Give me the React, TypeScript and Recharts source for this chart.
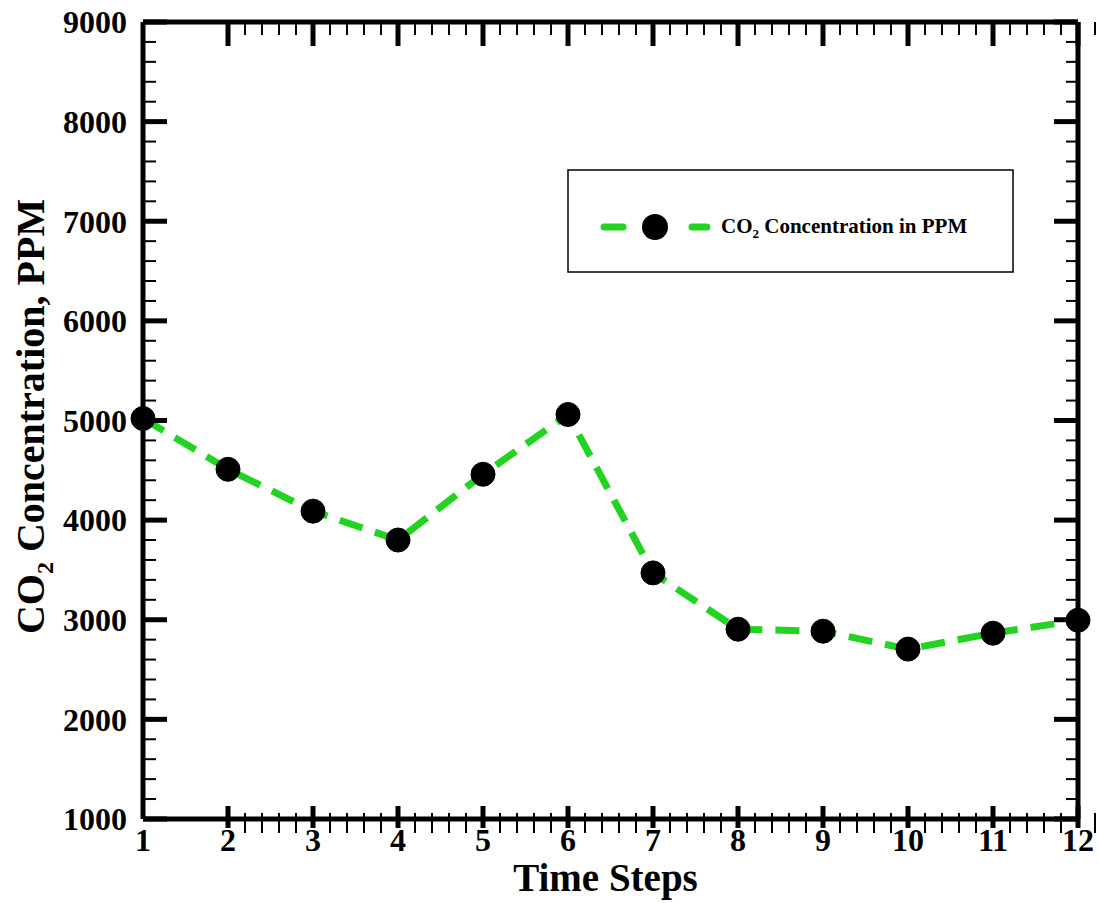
import { LineChart, Line, XAxis, YAxis } from "recharts";

const steps = [1, 2, 3, 4, 5, 6, 7, 8, 9, 10, 11, 12];
const co2 = [5020, 4510, 4090, 3800, 4460, 5060, 3470, 2905, 2885, 2705, 2865, 2995];
const xTicks = [1, 2, 3, 4, 5, 6, 7, 8, 9, 10, 11, 12];
const yTicks = [1000, 2000, 3000, 4000, 5000, 6000, 7000, 8000, 9000];

const xMinor: number[] = [];
for (let i = 1; i < 12; i++) for (let k = 1; k < 5; k++) xMinor.push(i + k * 0.2);
const yMinor: number[] = [];
for (let v = 1000; v < 9000; v += 1000) for (let k = 1; k < 5; k++) yMinor.push(v + k * 200);

const data = steps.map((s, i) => ({ step: s, co2: co2[i] }));

const GREEN = "#22d322";
const FONT = "'Liberation Serif', 'Times New Roman', serif";
const tickFont = { fill: "#000", fontSize: 32, fontWeight: "bold", fontFamily: FONT };
const major = { stroke: "#000", strokeWidth: 5 };
const minor = { stroke: "#000", strokeWidth: 2 };
const T = 0.01; // axis thickness, must be > 0 or recharts skips drawing

function XTitle(props: any) {
  const vb = props.viewBox || { x: 143, y: 819, width: 935, height: 0 };
  return (
    <text x={vb.x + vb.width / 2 - 5} y={vb.y + 72} textAnchor="middle"
      fontFamily={FONT} fontWeight="bold" fontSize={39} fill="#000">
      Time Steps
    </text>
  );
}

function YTitle(props: any) {
  const vb = props.viewBox || { x: 143, y: 22, width: 0, height: 797 };
  const cx = vb.x - 99;
  const cy = vb.y + vb.height / 2 - 4;
  return (
    <text x={cx} y={cy} transform={`rotate(-90, ${cx}, ${cy})`} textAnchor="middle"
      fontFamily={FONT} fontWeight="bold" fontSize={40} fill="#000">
      CO<tspan fontSize={24} dy={9}>2</tspan>
      <tspan dy={-9}> Concentration, PPM</tspan>
    </text>
  );
}

function LegendBox() {
  return (
    <svg width={447} height={104} style={{ display: "block" }}>
      <rect x={1} y={1} width={445} height={102} fill="#fff" stroke="#000" strokeWidth={1.5} />
      <line x1={37} x2={56} y1={58} y2={58} stroke={GREEN} strokeWidth={7} strokeLinecap="round" />
      <circle cx={88} cy={58} r={13} fill="#000" />
      <line x1={125} x2={140} y1={58} y2={58} stroke={GREEN} strokeWidth={7} strokeLinecap="round" />
      <text x={154} y={64} fontFamily={FONT} fontWeight="bold" fontSize={21} fill="#000">
        CO<tspan fontSize={13} dy={5}>2</tspan>
        <tspan dy={-5}> Concentration in PPM</tspan>
      </text>
    </svg>
  );
}

export default function App() {
  const xCommon = { type: "number" as const, domain: [1, 12], height: T, interval: 0 as const, allowDataOverflow: true };
  const yCommon = { type: "number" as const, domain: [1000, 9000], width: T, interval: 0 as const, allowDataOverflow: true };
  return (
    <div style={{ position: "absolute", left: 0, top: 0, width: 1099, height: 903, background: "#fff" }}>
      <LineChart width={1099} height={903} data={data}
        margin={{ top: 22, right: 21, left: 143, bottom: 84 }}>
        {/* bottom: labels, major in/out, minor in/out */}
        <XAxis xAxisId="xl" dataKey="step" type="number" domain={[1, 12]} ticks={xTicks} height={T}
          interval={0} tickSize={0} tickMargin={9} tickLine={false} axisLine={false} tick={tickFont}
          label={<XTitle />} />
        <XAxis xAxisId="bMajIn" {...xCommon} ticks={xTicks} mirror tickSize={13}
          tickLine={major} axisLine={major} tickFormatter={() => ""} />
        <XAxis xAxisId="bMajOut" {...xCommon} ticks={xTicks} tickSize={9}
          tickLine={major} axisLine={false} tickFormatter={() => ""} />
        <XAxis xAxisId="bMinIn" {...xCommon} ticks={xMinor} mirror tickSize={6}
          tickLine={minor} axisLine={false} tickFormatter={() => ""} />
        <XAxis xAxisId="bMinOut" {...xCommon} ticks={xMinor} tickSize={14}
          tickLine={minor} axisLine={false} tickFormatter={() => ""} />
        {/* top */}
        <XAxis xAxisId="tMaj" {...xCommon} orientation="top" ticks={xTicks} mirror tickSize={24}
          tickLine={major} axisLine={major} tickFormatter={() => ""} />
        <XAxis xAxisId="tMin" {...xCommon} orientation="top" ticks={xMinor} mirror tickSize={13}
          tickLine={minor} axisLine={false} tickFormatter={() => ""} />
        {/* left */}
        <YAxis yAxisId="yl" type="number" domain={[1000, 9000]} ticks={yTicks} width={T}
          interval={0} tickSize={0} tickMargin={16} tickLine={false} axisLine={false} tick={tickFont}
          label={<YTitle />} />
        <YAxis yAxisId="lMaj" {...yCommon} ticks={yTicks} mirror tickSize={24}
          tickLine={major} axisLine={major} tickFormatter={() => ""} />
        <YAxis yAxisId="lMin" {...yCommon} ticks={yMinor} mirror tickSize={13}
          tickLine={minor} axisLine={false} tickFormatter={() => ""} />
        {/* right */}
        <YAxis yAxisId="rMaj" {...yCommon} orientation="right" ticks={yTicks} mirror tickSize={24}
          tickLine={major} axisLine={major} tickFormatter={() => ""} />
        <YAxis yAxisId="rMin" {...yCommon} orientation="right" ticks={yMinor} mirror tickSize={12}
          tickLine={minor} axisLine={false} tickFormatter={() => ""} />
        <Line xAxisId="xl" yAxisId="yl" dataKey="co2" stroke={GREEN} strokeWidth={7}
          strokeDasharray="24 13" isAnimationActive={false}
          dot={{ r: 12, fill: "#000", stroke: "#000", strokeWidth: 1, strokeDasharray: "" }}
          activeDot={false} />
      </LineChart>
      <div style={{ position: "absolute", left: 567, top: 169 }}>
        <LegendBox />
      </div>
    </div>
  );
}
